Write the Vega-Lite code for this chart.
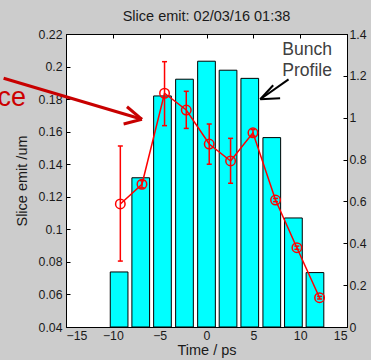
{
  "$schema": "https://vega.github.io/schema/vega-lite/v6.json",
  "width": 281,
  "height": 293,
  "autosize": {"type": "none"},
  "padding": {"left": 66, "top": 34, "right": 24, "bottom": 33},
  "background": "#cccccc",
  "title": {"text": "Slice emit: 02/03/16 01:38", "font": "Liberation Sans", "fontSize": 14.5, "fontWeight": "normal", "color": "#1a1a1a", "offset": 4},
  "datasets": {
    "profile": [
      {"t": -9.33, "profile": 0.263},
      {"t": -7.02, "profile": 0.713},
      {"t": -4.70, "profile": 1.104},
      {"t": -2.35, "profile": 1.184},
      {"t": 0.0, "profile": 1.270},
      {"t": 2.30, "profile": 1.227},
      {"t": 4.62, "profile": 1.188},
      {"t": 6.97, "profile": 0.905},
      {"t": 9.28, "profile": 0.521},
      {"t": 11.58, "profile": 0.260}
    ],
    "emit": [
      {"t": -9.20, "emit": 0.1156, "lo": 0.0805, "hi": 0.1512},
      {"t": -6.89, "emit": 0.1277, "lo": 0.1255, "hi": 0.1299},
      {"t": -4.48, "emit": 0.1836, "lo": 0.1637, "hi": 0.2030},
      {"t": -2.16, "emit": 0.1733, "lo": 0.1620, "hi": 0.1848},
      {"t": 0.29, "emit": 0.1524, "lo": 0.1400, "hi": 0.1647},
      {"t": 2.57, "emit": 0.1420, "lo": 0.1283, "hi": 0.1559},
      {"t": 4.96, "emit": 0.1593, "lo": 0.1573, "hi": 0.1613},
      {"t": 7.37, "emit": 0.1180, "lo": 0.1170, "hi": 0.1190},
      {"t": 9.65, "emit": 0.0887, "lo": 0.0877, "hi": 0.0897},
      {"t": 12.07, "emit": 0.0580, "lo": 0.0572, "hi": 0.0588}
    ],
    "bunchNote": [
      {"label": "Bunch", "x": 8.08, "y": 0.207},
      {"label": "Profile", "x": 8.08, "y": 0.194}
    ],
    "sliceNote": [
      {"label": "Slice", "x": -19.27, "y": 0.1755}
    ],
    "blackArrow": [
      {"seg": "a", "ord": 1, "x": 8.76, "y": 0.1921},
      {"seg": "a", "ord": 2, "x": 5.74, "y": 0.1799},
      {"seg": "b", "ord": 1, "x": 7.12, "y": 0.1885},
      {"seg": "b", "ord": 2, "x": 5.74, "y": 0.1799},
      {"seg": "c", "ord": 1, "x": 7.86, "y": 0.1805},
      {"seg": "c", "ord": 2, "x": 5.74, "y": 0.1799}
    ],
    "redArrow": [
      {"seg": "a", "ord": 1, "x": -21.66, "y": 0.1928},
      {"seg": "a", "ord": 2, "x": -6.89, "y": 0.1676},
      {"seg": "b", "ord": 1, "x": -8.49, "y": 0.1753},
      {"seg": "b", "ord": 2, "x": -6.89, "y": 0.1676},
      {"seg": "c", "ord": 1, "x": -8.85, "y": 0.1647},
      {"seg": "c", "ord": 2, "x": -6.89, "y": 0.1676}
    ]
  },
  "layer": [
    {
      "data": {"name": "profile"},
      "mark": {"type": "bar", "size": 17.7, "fill": "#00ffff", "stroke": "black", "strokeWidth": 1},
      "encoding": {
        "x": {"field": "t", "type": "quantitative", "scale": {"domain": [-15, 15], "nice": false, "padding": 0},
              "axis": {"orient": "bottom", "values": [-15, -10, -5, 0, 5, 10, 15], "title": "Time / ps", "titlePadding": 2, "labelPadding": 6}},
        "y": {"field": "profile", "type": "quantitative", "scale": {"domain": [0, 1.4], "nice": false, "zero": true},
              "axis": {"orient": "right", "values": [0, 0.2, 0.4, 0.6, 0.8, 1, 1.2, 1.4], "title": null, "labelPadding": 6, "labelExpr": "datum.value === 0 ? '0' : format(datum.value, '.1~f')"}}
      }
    },
    {
      "data": {"name": "emit"},
      "mark": {"type": "line", "color": "#ff0000", "strokeWidth": 1.5},
      "encoding": {
        "x": {"field": "t", "type": "quantitative",
              "axis": {"orient": "top", "values": [-10, -5, 0, 5, 10], "labels": false, "title": null}},
        "y": {"field": "emit", "type": "quantitative", "scale": {"domain": [0.04, 0.22], "nice": false, "zero": false},
              "axis": {"orient": "left", "values": [0.04, 0.06, 0.08, 0.1, 0.12, 0.14, 0.16, 0.18, 0.2, 0.22], "title": "Slice emit /um", "titlePadding": 9, "labelPadding": 8, "labelExpr": "format(datum.value, '.2~f')"}}
      }
    },
    {
      "data": {"name": "emit"},
      "mark": {"type": "rule", "color": "#ff0000", "strokeWidth": 1.5},
      "encoding": {
        "x": {"field": "t", "type": "quantitative", "axis": null},
        "y": {"field": "lo", "type": "quantitative", "scale": {"domain": [0.04, 0.22], "nice": false, "zero": false}, "axis": null},
        "y2": {"field": "hi"}
      }
    },
    {
      "data": {"name": "emit"},
      "mark": {"type": "point", "shape": "M -1 0 L 1 0", "filled": false, "stroke": "#ff0000", "strokeWidth": 1.5, "size": 25, "opacity": 1},
      "encoding": {
        "x": {"field": "t", "type": "quantitative", "axis": null},
        "y": {"field": "lo", "type": "quantitative", "scale": {"domain": [0.04, 0.22], "nice": false, "zero": false}, "axis": null}
      }
    },
    {
      "data": {"name": "emit"},
      "mark": {"type": "point", "shape": "M -1 0 L 1 0", "filled": false, "stroke": "#ff0000", "strokeWidth": 1.5, "size": 25, "opacity": 1},
      "encoding": {
        "x": {"field": "t", "type": "quantitative", "axis": null},
        "y": {"field": "hi", "type": "quantitative", "scale": {"domain": [0.04, 0.22], "nice": false, "zero": false}, "axis": null}
      }
    },
    {
      "data": {"name": "emit"},
      "mark": {"type": "point", "shape": "circle", "filled": false, "stroke": "#ff0000", "strokeWidth": 1.5, "size": 90, "opacity": 1},
      "encoding": {
        "x": {"field": "t", "type": "quantitative", "axis": null},
        "y": {"field": "emit", "type": "quantitative", "scale": {"domain": [0.04, 0.22], "nice": false, "zero": false}, "axis": null}
      }
    },
    {
      "data": {"name": "blackArrow"},
      "mark": {"type": "line", "color": "black", "strokeWidth": 2},
      "encoding": {
        "x": {"field": "x", "type": "quantitative", "axis": null},
        "y": {"field": "y", "type": "quantitative", "scale": {"domain": [0.04, 0.22], "nice": false, "zero": false}, "axis": null},
        "detail": {"field": "seg"},
        "order": {"field": "ord"}
      }
    },
    {
      "data": {"name": "redArrow"},
      "mark": {"type": "line", "color": "#c80000", "strokeWidth": 3},
      "encoding": {
        "x": {"field": "x", "type": "quantitative", "axis": null},
        "y": {"field": "y", "type": "quantitative", "scale": {"domain": [0.04, 0.22], "nice": false, "zero": false}, "axis": null},
        "detail": {"field": "seg"},
        "order": {"field": "ord"}
      }
    },
    {
      "data": {"name": "bunchNote"},
      "mark": {"type": "text", "align": "left", "baseline": "alphabetic", "font": "Liberation Sans", "fontSize": 17.6, "color": "#404040"},
      "encoding": {
        "x": {"field": "x", "type": "quantitative", "axis": null},
        "y": {"field": "y", "type": "quantitative", "scale": {"domain": [0.04, 0.22], "nice": false, "zero": false}, "axis": null},
        "text": {"field": "label"}
      }
    },
    {
      "data": {"name": "sliceNote"},
      "mark": {"type": "text", "align": "right", "baseline": "alphabetic", "font": "Liberation Sans", "fontSize": 27, "color": "#cc0000"},
      "encoding": {
        "x": {"field": "x", "type": "quantitative", "axis": null},
        "y": {"field": "y", "type": "quantitative", "scale": {"domain": [0.04, 0.22], "nice": false, "zero": false}, "axis": null},
        "text": {"field": "label"}
      }
    }
  ],
  "resolve": {"scale": {"y": "independent"}, "axis": {"x": "independent", "y": "independent"}},
  "config": {
    "view": {"fill": "white", "stroke": "black", "strokeWidth": 1},
    "axis": {
      "labelFont": "Liberation Sans", "labelFontSize": 12.3, "labelColor": "#1a1a1a",
      "titleFont": "Liberation Sans", "titleFontSize": 14.5, "titleFontWeight": "normal", "titleColor": "#1a1a1a",
      "domainColor": "black", "tickColor": "black", "tickSize": -4, "grid": false, "zindex": 1
    }
  }
}
